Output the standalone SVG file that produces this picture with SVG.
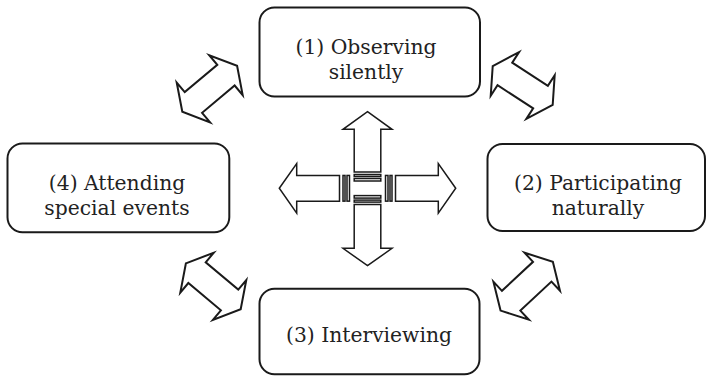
<svg xmlns="http://www.w3.org/2000/svg" xmlns:xlink="http://www.w3.org/1999/xlink" width="707" height="377" viewBox="0 0 707 377">
<style>
.box{fill:#fff;stroke:#1a1a1a;stroke-width:2}
.lbl{font-family:"DejaVu Serif","Liberation Serif",serif;font-size:20.3px;fill:#222;text-anchor:middle}
.dbl{fill:#fff;stroke:#1a1a1a;stroke-width:2;stroke-linejoin:miter}
.arr{fill:#fff;stroke:#1a1a1a;stroke-width:1.5;stroke-linejoin:miter}
</style>
<defs>
<path id="dbl" d="M-35.75,0 L-21.25,-26 L-21.25,-13.5 L21.25,-13.5 L21.25,-26 L35.75,0 L21.25,26 L21.25,13.5 L-21.25,13.5 L-21.25,26 Z"/>
</defs>
<rect width="707" height="377" fill="#fff"/>
<g id="node1">
<rect class="box" x="259.5" y="7.5" width="220.5" height="89" rx="15"/>
<text class="lbl"><tspan x="366" y="53.5">(1) Observing</tspan><tspan x="366" y="78.5">silently</tspan></text>
</g>
<g id="node2">
<rect class="box" x="487.5" y="144" width="217.5" height="87" rx="15"/>
<text class="lbl"><tspan x="598" y="189.5">(2) Participating</tspan><tspan x="598" y="214.5">naturally</tspan></text>
</g>
<g id="node3">
<rect class="box" x="259.5" y="288.7" width="220" height="85.6" rx="15"/>
<text class="lbl" x="369" y="342">(3) Interviewing</text>
</g>
<g id="node4">
<rect class="box" x="7.5" y="143.5" width="221.8" height="88.8" rx="15"/>
<text class="lbl"><tspan x="117" y="189.5">(4) Attending</tspan><tspan x="117" y="214.5">special events</tspan></text>
</g>
<g id="connectors">
<use href="#dbl" xlink:href="#dbl" class="dbl" transform="translate(209.7,88.8) rotate(-40)"/>
<use href="#dbl" xlink:href="#dbl" class="dbl" transform="translate(522.7,85.5) rotate(33)"/>
<use href="#dbl" xlink:href="#dbl" class="dbl" transform="translate(213.3,286.3) rotate(40)"/>
<use href="#dbl" xlink:href="#dbl" class="dbl" transform="translate(526.7,286.2) rotate(-43)"/>
<g id="center-arrows">
<path class="arr" d="M367.5,111.7 L392,129.3 L380.8,129.3 L380.8,172 L354.2,172 L354.2,129.3 L343,129.3 Z"/>
<rect class="arr" x="354.2" y="174.5" width="26.6" height="2"/>
<rect class="arr" x="354.2" y="178.5" width="26.6" height="2.5"/>
<path class="arr" d="M367.5,265.7 L392,248.3 L380.8,248.3 L380.8,204.6 L354.2,204.6 L354.2,248.3 L343,248.3 Z"/>
<rect class="arr" x="354.2" y="200.1" width="26.6" height="2"/>
<rect class="arr" x="354.2" y="195.6" width="26.6" height="2.5"/>
<path class="arr" d="M279.3,188.3 L296.7,163.5 L296.7,175.45 L339.5,175.45 L339.5,201.15 L296.7,201.15 L296.7,213.1 Z"/>
<rect class="arr" x="343" y="175.45" width="2" height="25.7"/>
<rect class="arr" x="347" y="175.45" width="2.5" height="25.7"/>
<path class="arr" d="M455.7,188.3 L438.3,163.5 L438.3,175.45 L395.5,175.45 L395.5,201.15 L438.3,201.15 L438.3,213.1 Z"/>
<rect class="arr" x="390" y="175.45" width="2" height="25.7"/>
<rect class="arr" x="385.5" y="175.45" width="2.5" height="25.7"/>
</g>
</g>
</svg>
